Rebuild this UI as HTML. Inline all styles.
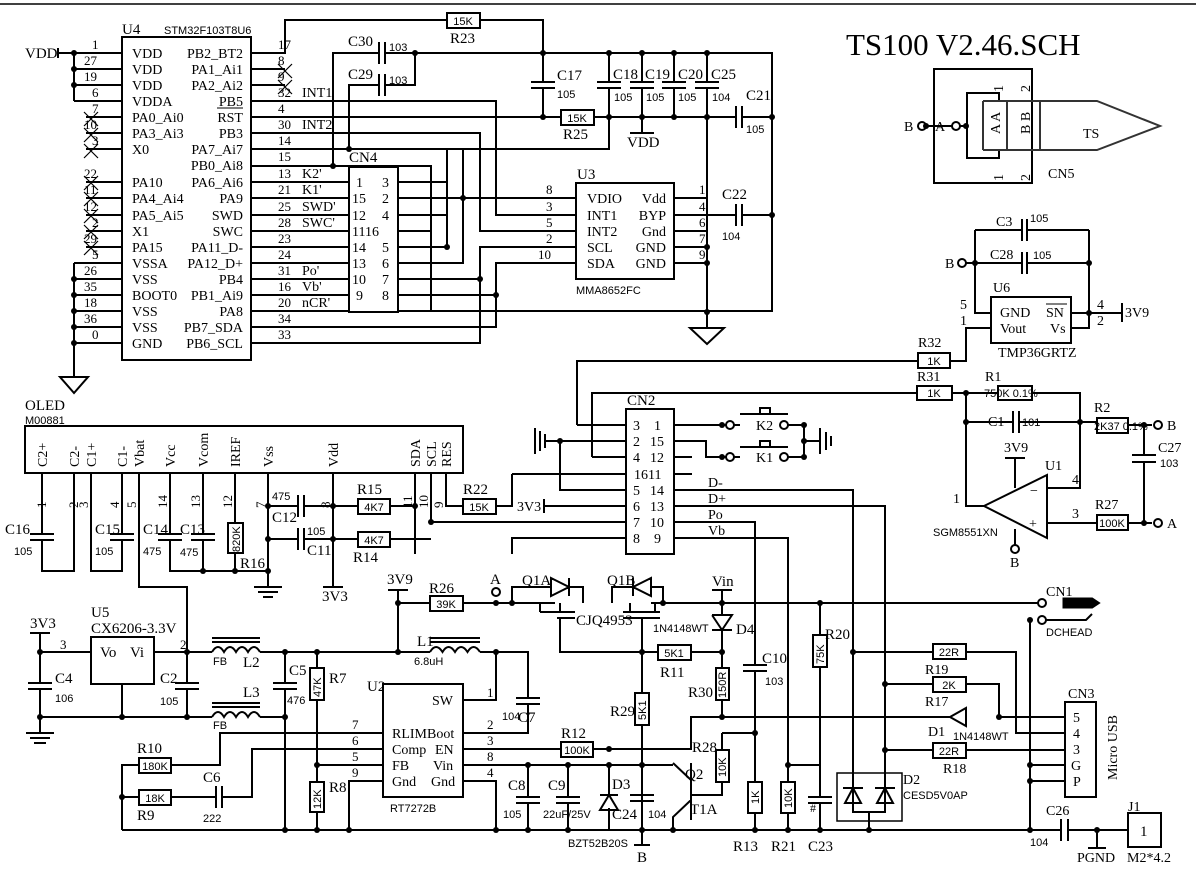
<!DOCTYPE html>
<html><head><meta charset="utf-8"><style>
body{margin:0;background:#fff}
svg{display:block}
.w{stroke:#000;stroke-width:2;fill:none}
.t{font-family:"Liberation Serif",serif;font-size:15px;fill:#000}
.s{font-family:"Liberation Sans",sans-serif;font-size:11px;fill:#000}
.r{fill:#fff;stroke:#000;stroke-width:2}
.g{fill:#fff;stroke:none}
</style></head><body>
<svg width="1196" height="876" viewBox="0 0 1196 876" xmlns="http://www.w3.org/2000/svg">
<line x1="0" y1="4" x2="1196" y2="4" stroke="#000" stroke-width="1.5"/>
<text x="846" y="55" class="t" style="font-size:31px">TS100 V2.46.SCH</text>

<!-- U4 -->
<rect x="122" y="37" width="129" height="323" class="r"/>
<text x="122" y="34" class="t">U4</text><text x="164" y="34" class="s">STM32F103T8U6</text>
<path class="w" d="M58 53H122M74 69H122M74 85H122M74 101H122M74 53V101M86 117H122M86 133H122M86 149H122M86 182H122M86 198H122M86 215H122M86 231H122M86 247H122M74 263H122M74 279H122M74 295H122M74 311H122M74 327H122M74 343H122M74 263V377"/>
<path class="w" d="M58 48V58M60 377H88L74 393Z"/>
<g stroke="#000" stroke-width="1.2"><path d="M84 112l14 14M98 112l-14 14M84 128l14 14M98 128l-14 14M84 144l14 14M98 144l-14 14M84 176l14 14M98 176l-14 14M84 192l14 14M98 192l-14 14M84 209l14 14M98 209l-14 14M84 225l14 14M98 225l-14 14M84 241l14 14M98 241l-14 14M278 64l14 14M292 64l-14 14M278 80l14 14M292 80l-14 14"/></g>
<text x="25" y="58" class="t">VDD</text>
<g class="t" style="font-size:13px"><text x="92" y="49">1</text><text x="84" y="65">27</text><text x="84" y="81">19</text><text x="92" y="97">6</text><text x="92" y="113">7</text><text x="84" y="129">10</text><text x="92" y="145">3</text><text x="84" y="178">22</text><text x="84" y="194">11</text><text x="84" y="211">12</text><text x="92" y="227">2</text><text x="84" y="243">29</text><text x="92" y="259">5</text><text x="84" y="275">26</text><text x="84" y="291">35</text><text x="84" y="307">18</text><text x="84" y="323">36</text><text x="92" y="339">0</text></g>
<g class="t" style="font-size:14px"><text x="132" y="58">VDD</text><text x="132" y="74">VDD</text><text x="132" y="90">VDD</text><text x="132" y="106">VDDA</text><text x="132" y="122">PA0_Ai0</text><text x="132" y="138">PA3_Ai3</text><text x="132" y="154">X0</text><text x="132" y="187">PA10</text><text x="132" y="203">PA4_Ai4</text><text x="132" y="220">PA5_Ai5</text><text x="132" y="236">X1</text><text x="132" y="252">PA15</text><text x="132" y="268">VSSA</text><text x="132" y="284">VSS</text><text x="132" y="300">BOOT0</text><text x="132" y="316">VSS</text><text x="132" y="332">VSS</text><text x="132" y="348">GND</text></g>
<g class="t" style="font-size:14px" text-anchor="end"><text x="243" y="58">PB2_BT2</text><text x="243" y="74">PA1_Ai1</text><text x="243" y="90">PA2_Ai2</text><text x="243" y="106">PB5</text><text x="243" y="122">RST</text><text x="243" y="138">PB3</text><text x="243" y="154">PA7_Ai7</text><text x="243" y="170">PB0_Ai8</text><text x="243" y="187">PA6_Ai6</text><text x="243" y="203">PA9</text><text x="243" y="220">SWD</text><text x="243" y="236">SWC</text><text x="243" y="252">PA11_D-</text><text x="243" y="268">PA12_D+</text><text x="243" y="284">PB4</text><text x="243" y="300">PB1_Ai9</text><text x="243" y="316">PA8</text><text x="243" y="332">PB7_SDA</text><text x="243" y="348">PB6_SCL</text></g>
<line x1="217" y1="108" x2="243" y2="108" stroke="#000"/>
<g class="t" style="font-size:13px"><text x="278" y="49">17</text><text x="278" y="65">8</text><text x="278" y="81">9</text><text x="278" y="97">32</text><text x="278" y="113">4</text><text x="278" y="129">30</text><text x="278" y="145">14</text><text x="278" y="161">15</text><text x="278" y="178">13</text><text x="278" y="194">21</text><text x="278" y="211">25</text><text x="278" y="227">28</text><text x="278" y="243">23</text><text x="278" y="259">24</text><text x="278" y="275">31</text><text x="278" y="291">16</text><text x="278" y="307">20</text><text x="278" y="323">34</text><text x="278" y="339">33</text></g>
<g class="t" style="font-size:14px"><text x="302" y="97">INT1</text><text x="302" y="129">INT2</text><text x="302" y="178">K2'</text><text x="302" y="194">K1'</text><text x="302" y="211">SWD'</text><text x="302" y="227">SWC'</text><text x="302" y="275">Po'</text><text x="302" y="291">Vb'</text><text x="302" y="307">nCR'</text></g>
<path class="w" d="M251 53H285V20H447M480 20H543V117M251 69H285M251 85H285M251 101H496V215H576M251 117H561M251 133H480V231H576M251 149H447V182H398M349 149H609V117M463 149V263H398M251 166H431V311M251 182H349M251 198H349M251 215H349M251 231H349M251 247H349M251 263H349M251 279H349M251 295H349M251 311H772V53H415M251 327H496V263H576M251 343H480V247H576M463 198H576M398 198H480M398 215H447M398 231H431M398 247H447V149M398 279H480M398 295H496"/>
<rect x="447" y="13" width="33" height="15" class="r"/><text x="463" y="25" class="s" text-anchor="middle">15K</text><text x="450" y="43" class="t">R23</text>
<path class="w" d="M333 166V53H379M385 53H415V85H385M379 85H349V149M379 42V64M385 42V64M379 74V96M385 74V96"/>
<text x="348" y="46" class="t">C30</text><text x="389" y="51" class="s">103</text><text x="348" y="79" class="t">C29</text><text x="389" y="84" class="s">103</text>
<rect x="349" y="167" width="49" height="145" class="r"/><text x="349" y="162" class="t">CN4</text>
<g class="t" style="font-size:14px"><text x="356" y="187">1</text><text x="352" y="203">15</text><text x="352" y="220">12</text><text x="352" y="236">1116</text><text x="352" y="252">14</text><text x="352" y="268">13</text><text x="352" y="284">10</text><text x="356" y="300">9</text><text x="382" y="187">3</text><text x="382" y="203">2</text><text x="382" y="220">4</text><text x="382" y="252">5</text><text x="382" y="268">6</text><text x="382" y="284">7</text><text x="382" y="300">8</text></g>
<rect x="530" y="82" width="26" height="6" class="g"/><path class="w" d="M531 82H555M531 88H555"/>
<text x="557" y="80" class="t">C17</text><text x="557" y="98" class="s">105</text>
<rect x="561" y="110" width="33" height="15" class="r"/><text x="577" y="122" class="s" text-anchor="middle">15K</text><text x="563" y="139" class="t">R25</text>
<path class="w" d="M594 117H736M742 117H772M609 53V117M642 53V133M674 53V117M707 53V198H674M674 215H736M742 215H772M674 231H707M674 247H707M674 263H707M707 198V328M630 133H654M736 106V128M742 106V128M736 204V226M742 204V226M690 328H724L707 344Z"/>
<g><rect x="596" y="82" width="26" height="6" class="g"/><rect x="629" y="82" width="26" height="6" class="g"/><rect x="661" y="82" width="26" height="6" class="g"/><rect x="694" y="82" width="26" height="6" class="g"/></g>
<path class="w" d="M597 82H621M597 88H621M630 82H654M630 88H654M662 82H686M662 88H686M695 82H719M695 88H719"/>
<g class="t"><text x="613" y="79">C18</text><text x="645" y="79">C19</text><text x="678" y="79">C20</text><text x="711" y="79">C25</text><text x="746" y="100">C21</text><text x="722" y="199">C22</text><text x="627" y="147">VDD</text></g>
<g class="s"><text x="614" y="101">105</text><text x="646" y="101">105</text><text x="678" y="101">105</text><text x="712" y="101">104</text><text x="746" y="133">105</text><text x="722" y="240">104</text></g>
<rect x="576" y="183" width="98" height="96" class="r"/><text x="577" y="179" class="t">U3</text>
<g class="t" style="font-size:14px"><text x="587" y="203">VDIO</text><text x="587" y="220">INT1</text><text x="587" y="236">INT2</text><text x="587" y="252">SCL</text><text x="587" y="268">SDA</text></g>
<g class="t" style="font-size:14px" text-anchor="end"><text x="666" y="203">Vdd</text><text x="666" y="220">BYP</text><text x="666" y="236">Gnd</text><text x="666" y="252">GND</text><text x="666" y="268">GND</text></g>
<g class="t" style="font-size:13px"><text x="546" y="194">8</text><text x="546" y="211">3</text><text x="546" y="227">5</text><text x="546" y="243">2</text><text x="538" y="259">10</text><text x="699" y="194">1</text><text x="699" y="211">4</text><text x="699" y="227">6</text><text x="699" y="243">7</text><text x="699" y="259">9</text></g>
<text x="576" y="294" class="s">MMA8652FC</text>
<!-- CN5 -->
<path class="w" d="M934 126V69H1032V183H934V126M999 101V93H967V158H999V150"/>
<path d="M983 101H1040M983 150H1040M983 101V150M1007 101V150M1040 101V150M1040 101H1097L1160 126L1097 150H1040" stroke="#333" stroke-width="2" fill="none"/>
<g class="t" style="font-size:14px"><text x="904" y="131">B</text><text x="935" y="131">A</text><text x="1083" y="138">TS</text><text x="1048" y="178">CN5</text></g>
<circle cx="922" cy="126" r="4" class="r" stroke-width="1.2"/><circle cx="956" cy="126" r="4" class="r" stroke-width="1.2"/>
<path class="w" d="M926 126H952M960 126H967"/>
<g class="t" style="font-size:14px"><text transform="translate(1000,134) rotate(-90)">A A</text><text transform="translate(1030,134) rotate(-90)">B B</text><text transform="translate(1003,92) rotate(-90)">1</text><text transform="translate(1030,92) rotate(-90)">2</text><text transform="translate(1003,181) rotate(-90)">1</text><text transform="translate(1030,181) rotate(-90)">2</text></g>
<!-- U6 -->
<path class="w" d="M975 230H1022M1027 230H1089M966 263H1022M1027 263H1089M975 230V313H991M1089 230V328H1071M1071 313H1122M991 328H966V361H950M918 361H577V425M1022 219V241M1027 219V241M1022 252V274M1027 252V274M1122 303V322"/>
<circle cx="962" cy="263" r="4" class="r" stroke-width="1.2"/>
<rect x="991" y="297" width="80" height="46" class="r"/>
<g class="t" style="font-size:14px"><text x="1000" y="317">GND</text><text x="1046" y="317">SN</text><text x="1000" y="333">Vout</text><text x="1050" y="333">Vs</text><text x="993" y="292">U6</text><text x="996" y="226">C3</text><text x="990" y="259">C28</text><text x="945" y="268">B</text><text x="1125" y="317">3V9</text><text x="960" y="309">5</text><text x="960" y="325">1</text><text x="1097" y="309">4</text><text x="1097" y="325">2</text><text x="998" y="357">TMP36GRTZ</text><text x="918" y="347">R32</text></g>
<line x1="1046" y1="304" x2="1067" y2="304" stroke="#000"/>
<g class="s"><text x="1030" y="222">105</text><text x="1033" y="259">105</text></g>
<rect x="918" y="353" width="32" height="15" class="r"/><text x="934" y="365" class="s" text-anchor="middle">1K</text>
<!-- opamp -->
<path class="w" d="M592 457V393H917M952 393H998M1032 393H1080V488H1047M966 393V506H984M966 422H1013M1019 422H1097M1128 425H1152M1144 425V455M1144 462V523M1047 523H1097M1128 523H1152M1013 411V433M1019 411V433M1132 455H1156M1132 462H1156M1015 458V488M1005 458H1025M1015 529V545"/>
<path class="w" d="M984 506L1047 475V538Z"/>
<rect x="917" y="386" width="35" height="14" class="r"/><text x="934" y="397" class="s" text-anchor="middle">1K</text>
<rect x="998" y="386" width="34" height="14" class="r"/><text x="984" y="397" class="s">750K 0.1%</text>
<rect x="1097" y="418" width="31" height="15" class="r"/><text x="1094" y="430" class="s">2K37 0.1%</text>
<rect x="1097" y="515" width="31" height="15" class="r"/><text x="1112" y="527" class="s" text-anchor="middle">100K</text>
<circle cx="1158" cy="425" r="4" class="r" stroke-width="1.2"/><circle cx="1158" cy="523" r="4" class="r" stroke-width="1.2"/><circle cx="1015" cy="549" r="4" class="r" stroke-width="1.2"/>
<g class="t" style="font-size:14px"><text x="917" y="381">R31</text><text x="985" y="381">R1</text><text x="988" y="426">C1</text><text x="1094" y="412">R2</text><text x="1167" y="430">B</text><text x="1167" y="528">A</text><text x="1158" y="452">C27</text><text x="1004" y="452">3V9</text><text x="1045" y="470">U1</text><text x="953" y="503">1</text><text x="1072" y="484">4</text><text x="1072" y="518">3</text><text x="1095" y="509">R27</text><text x="1010" y="567">B</text><text x="1030" y="495">−</text><text x="1029" y="528">+</text></g>
<g class="s"><text x="1022" y="426">101</text><text x="1160" y="467">103</text><text x="933" y="536">SGM8551XN</text></g>
<!-- CN2 -->
<rect x="626" y="409" width="48" height="145" class="r"/><text x="627" y="405" class="t">CN2</text>
<g class="t" style="font-size:14px"><text x="633" y="430">3</text><text x="633" y="446">2</text><text x="633" y="462">4</text><text x="634" y="479">1611</text><text x="633" y="495">5</text><text x="633" y="511">6</text><text x="633" y="527">7</text><text x="633" y="543">8</text><text x="654" y="430">1</text><text x="650" y="446">15</text><text x="650" y="462">12</text><text x="650" y="495">14</text><text x="650" y="511">13</text><text x="650" y="527">10</text><text x="654" y="543">9</text></g>
<path class="w" d="M577 425H626M545 441H626M560 441V490H626M592 457H626M512 474H626M544 506H626M431 522H626M512 554V538H626M512 474V506H496M446 473V506H463M545 434V448M540 431V451M535 428V454M544 499V513"/>
<path class="w" d="M674 425H726M674 441H706V457H726M674 457H692M674 474H692M734 425H740M788 425H804V457H788M734 457H740M804 441H820M820 428V454M826 432V450M831 436V446M674 490H853V773M674 506H885V773M674 522H755V665M755 671V782M674 538H788V782M740 414H788M760 414V408H770V414M740 447H788M760 447V441H770V447"/>
<circle cx="730" cy="425" r="4" class="r" stroke-width="1.2"/><circle cx="784" cy="425" r="4" class="r" stroke-width="1.2"/><circle cx="730" cy="457" r="4" class="r" stroke-width="1.2"/><circle cx="784" cy="457" r="4" class="r" stroke-width="1.2"/>
<g class="t" style="font-size:14px"><text x="756" y="430">K2</text><text x="756" y="462">K1</text><text x="708" y="487">D-</text><text x="708" y="503">D+</text><text x="708" y="519">Po</text><text x="708" y="535">Vb</text><text x="517" y="511">3V3</text></g>
<!-- OLED -->
<rect x="25" y="426" width="438" height="47" class="r"/>
<text x="25" y="410" class="t">OLED</text><text x="25" y="424" class="s">M00881</text>
<g class="t" style="font-size:14px"><text transform="translate(47,467) rotate(-90)">C2+</text><text transform="translate(79,467) rotate(-90)">C2-</text><text transform="translate(96,467) rotate(-90)">C1+</text><text transform="translate(127,467) rotate(-90)">C1-</text><text transform="translate(144,467) rotate(-90)">Vbat</text><text transform="translate(175,467) rotate(-90)">Vcc</text><text transform="translate(208,467) rotate(-90)">Vcom</text><text transform="translate(240,467) rotate(-90)">IREF</text><text transform="translate(273,467) rotate(-90)">Vss</text><text transform="translate(338,467) rotate(-90)">Vdd</text><text transform="translate(420,467) rotate(-90)">SDA</text><text transform="translate(436,467) rotate(-90)">SCL</text><text transform="translate(451,467) rotate(-90)">RES</text></g>
<path class="w" d="M42 473V571H74V473M91 473V571H122V473M139 473V587H187V652M170 473V571H268M203 473V571M235 473V523M235 553V571M268 473V587M333 473V587M268 506H298M304 506H333M268 539H298M304 539H333M333 506H358M390 506H415M333 539H358M390 539H431M415 473V554M431 473V522M298 495V517M304 495V517M298 528V550M304 528V550M323 587H343M254 587H282M258 592H278M263 597H273"/>
<g><rect x="28" y="534" width="28" height="6" class="g"/><rect x="108" y="534" width="28" height="6" class="g"/><rect x="156" y="534" width="28" height="6" class="g"/><rect x="189" y="534" width="28" height="6" class="g"/></g>
<path class="w" d="M30 534H54M30 540H54M110 534H134M110 540H134M158 534H182M158 540H182M191 534H215M191 540H215"/>
<rect x="228" y="523" width="15" height="30" class="r"/><text class="s" transform="translate(240,552) rotate(-90)">820K</text>
<rect x="358" y="499" width="32" height="15" class="r"/><text x="374" y="511" class="s" text-anchor="middle">4K7</text>
<rect x="358" y="532" width="32" height="15" class="r"/><text x="374" y="544" class="s" text-anchor="middle">4K7</text>
<rect x="463" y="499" width="33" height="15" class="r"/><text x="479" y="511" class="s" text-anchor="middle">15K</text>
<g class="t" style="font-size:13px"><text transform="translate(46,508) rotate(-90)">1</text><text transform="translate(78,508) rotate(-90)">2</text><text transform="translate(88,508) rotate(-90)">3</text><text transform="translate(119,508) rotate(-90)">4</text><text transform="translate(136,508) rotate(-90)">5</text><text transform="translate(167,508) rotate(-90)">14</text><text transform="translate(200,508) rotate(-90)">13</text><text transform="translate(232,508) rotate(-90)">12</text><text transform="translate(265,508) rotate(-90)">7</text><text transform="translate(330,508) rotate(-90)">8</text><text transform="translate(412,508) rotate(-90)">11</text><text transform="translate(428,508) rotate(-90)">10</text><text transform="translate(443,508) rotate(-90)">9</text></g>
<g class="t"><text x="5" y="534">C16</text><text x="95" y="534">C15</text><text x="143" y="534">C14</text><text x="180" y="534">C13</text><text x="240" y="568">R16</text><text x="272" y="522">C12</text><text x="307" y="555">C11</text><text x="357" y="494">R15</text><text x="353" y="562">R14</text><text x="463" y="494">R22</text><text x="322" y="601">3V3</text></g>
<g class="s"><text x="14" y="555">105</text><text x="95" y="555">105</text><text x="143" y="555">475</text><text x="180" y="556">475</text><text x="272" y="500">475</text><text x="307" y="535">105</text></g>
<!-- U5 / power -->
<path class="w" d="M30 633H50M40 633V683M40 689V733M40 652H91M154 652H212M260 652H430M480 652H528V698M528 704V733H463M122 684V717M40 717H212M260 717H285M187 652V683M187 689V717M285 652V683M285 689V830M317 652V668M317 700V782M317 812V830M398 590V652M388 590H408M398 603H430M463 603H555M651 603H1038M26 733H54M30 738H50M34 743H46M28 683H52M28 689H52M175 683H199M175 689H199M273 683H297M273 689H297M516 698H540M516 704H540"/>
<rect x="91" y="637" width="63" height="47" class="r"/>
<path d="M212 652q6-10 12 0q6-10 12 0q6-10 12 0q6-10 12 0M212 717q6-10 12 0q6-10 12 0q6-10 12 0q6-10 12 0M430 652q6-10 12.5 0q6-10 12.5 0q6-10 12.5 0q6-10 12.5 0" class="w"/>
<path class="w" d="M212 638H260M212 642H260M212 703H260M212 707H260M430 638H480M430 642H480"/>
<rect x="310" y="668" width="14" height="32" class="r"/><text class="s" transform="translate(321,697) rotate(-90)">47K</text>
<rect x="310" y="782" width="14" height="30" class="r"/><text class="s" transform="translate(321,809) rotate(-90)">12K</text>
<rect x="430" y="596" width="33" height="15" class="r"/><text x="446" y="608" class="s" text-anchor="middle">39K</text>
<circle cx="496" cy="592" r="4" class="r" stroke-width="1.2"/>
<g class="t"><text x="30" y="628">3V3</text><text x="91" y="617">U5</text><text x="91" y="633">CX6206-3.3V</text><text x="100" y="657">Vo</text><text x="130" y="657">Vi</text><text x="60" y="649" style="font-size:13px">3</text><text x="180" y="649" style="font-size:13px">2</text><text x="55" y="683">C4</text><text x="160" y="683">C2</text><text x="243" y="667">L2</text><text x="243" y="697">L3</text><text x="289" y="675">C5</text><text x="329" y="683">R7</text><text x="329" y="792">R8</text><text x="387" y="584">3V9</text><text x="429" y="593">R26</text><text x="490" y="584">A</text><text x="522" y="585">Q1A</text><text x="607" y="585">Q1B</text><text x="417" y="646">L1</text><text x="367" y="691">U2</text></g>
<g class="s"><text x="55" y="702">106</text><text x="160" y="705">105</text><text x="287" y="704">476</text><text x="213" y="665">FB</text><text x="213" y="729">FB</text><text x="414" y="665">6.8uH</text></g>
<!-- U2 -->
<rect x="383" y="684" width="80" height="113" class="r"/>
<g class="t" style="font-size:14px"><text x="432" y="705">SW</text><text x="392" y="738">RLIMBoot</text><text x="392" y="754">Comp</text><text x="435" y="754">EN</text><text x="392" y="770">FB</text><text x="433" y="770">Vin</text><text x="392" y="786">Gnd</text><text x="431" y="786">Gnd</text></g>
<text x="390" y="812" class="s">RT7272B</text>
<g class="t" style="font-size:13px"><text x="352" y="729">7</text><text x="352" y="745">6</text><text x="352" y="761">5</text><text x="352" y="777">9</text><text x="487" y="697">1</text><text x="487" y="729">2</text><text x="487" y="745">3</text><text x="487" y="761">8</text><text x="487" y="777">4</text></g>
<path class="w" d="M383 733H220V765H171M139 765H122V830M383 749H252V797H222M216 797H171M139 797H122M383 765H317M383 781H349V830M463 700H496V652M463 749H561M593 749H691V717H800M463 765H673M463 781H496V830M122 830H1061M1068 830H1128M216 786V808M222 786V808"/>
<rect x="139" y="758" width="32" height="15" class="r"/><text x="155" y="770" class="s" text-anchor="middle">180K</text>
<rect x="139" y="790" width="32" height="15" class="r"/><text x="155" y="802" class="s" text-anchor="middle">18K</text>
<g class="t"><text x="137" y="753">R10</text><text x="137" y="820">R9</text><text x="203" y="782">C6</text><text x="518" y="722">C7</text><text x="561" y="738">R12</text></g>
<g class="s"><text x="203" y="822">222</text><text x="502" y="720">104</text></g>
<rect x="561" y="742" width="32" height="15" class="r"/><text x="577" y="754" class="s" text-anchor="middle">100K</text>
<!-- Q1 region -->
<path class="w" d="M512 603V587H551M569 587H583V603M569 578V596M551 578L569 587L551 596ZM612 603V587H633M651 587H663V603M633 578V596M651 578L633 587L651 596ZM540 603V612M560 603V612M630 603V612M655 603V612M540 612H575M623 612H660M557 618H575M623 618H660M560 618V652H642M642 618V830M642 652H658M691 652H722M722 590V615M712 615H732L722 630L712 615M712 630H732M722 630V668M722 700V717M712 590H732M820 603V635M820 667V797M820 803V830M788 765H820M808 797H832M808 803H832M755 733V782M755 813V830M788 813V830M722 733H755M722 733V750M722 782V795H691M691 763V820M691 780L673 763M691 800L673 817V830M609 765V795M568 765V797M568 803V830M528 765V797M528 803V830M609 808V830M630 795H654M630 801H654M516 797H540M516 803H540M556 797H580M556 803H580M743 665H767M743 671H767M634 845H650M642 830V845"/>
<path d="M609 795L600 810H618Z M600 795H618" class="w"/>
<rect x="658" y="645" width="33" height="15" class="r"/><text x="674" y="657" class="s" text-anchor="middle">5K1</text>
<rect x="716" y="668" width="13" height="32" class="r"/><text class="s" transform="translate(726,698) rotate(-90)">150R</text>
<rect x="635" y="693" width="14" height="32" class="r"/><text class="s" transform="translate(646,720) rotate(-90)">5K1</text>
<rect x="716" y="750" width="13" height="32" class="r"/><text class="s" transform="translate(726,777) rotate(-90)">10K</text>
<rect x="748" y="782" width="14" height="31" class="r"/><text class="s" transform="translate(759,804) rotate(-90)">1K</text>
<rect x="781" y="782" width="14" height="31" class="r"/><text class="s" transform="translate(792,808) rotate(-90)">10K</text>
<rect x="813" y="635" width="14" height="32" class="r"/><text class="s" transform="translate(824,664) rotate(-90)">75K</text>
<g class="t"><text x="576" y="625">CJQ4953</text><text x="736" y="634">D4</text><text x="712" y="586">Vin</text><text x="660" y="677">R11</text><text x="688" y="697">R30</text><text x="610" y="716">R29</text><text x="762" y="663">C10</text><text x="825" y="639">R20</text><text x="692" y="752">R28</text><text x="685" y="779">Q2</text><text x="690" y="814">T1A</text><text x="508" y="790">C8</text><text x="548" y="790">C9</text><text x="612" y="789">D3</text><text x="612" y="819">C24</text><text x="637" y="862">B</text><text x="733" y="851">R13</text><text x="771" y="851">R21</text><text x="808" y="851">C23</text><text x="810" y="812" style="font-size:12px">#</text></g>
<g class="s"><text x="653" y="632">1N4148WT</text><text x="765" y="685">103</text><text x="503" y="818">105</text><text x="543" y="818">22uF/25V</text><text x="648" y="818">104</text><text x="568" y="847">BZT52B20S</text></g>
<!-- D2 / USB -->
<rect x="837" y="773" width="65" height="48" fill="none" stroke="#000" stroke-width="1.5"/>
<path class="w" d="M853 773V812H885V773M869 812V830M843 788H863M875 788H895M853 788L845 803H861ZM885 788L877 803H893Z"/>
<path class="w" d="M853 652H933M966 652H1016V733H1065M885 684H933M966 684H999V717H1065M722 717H950M966 710V724M885 750H933M966 750H1065M1030 620V830M1030 765H1065M1030 781H1065"/>
<path class="w" d="M950 717L966 708V726Z"/>
<rect x="933" y="644" width="33" height="15" class="r"/><text x="949" y="656" class="s" text-anchor="middle">22R</text>
<rect x="933" y="677" width="33" height="15" class="r"/><text x="949" y="689" class="s" text-anchor="middle">2K</text>
<rect x="933" y="743" width="33" height="15" class="r"/><text x="949" y="755" class="s" text-anchor="middle">22R</text>
<rect x="1065" y="702" width="31" height="95" class="r"/>
<g class="t" style="font-size:14px"><text x="1073" y="722">5</text><text x="1073" y="738">4</text><text x="1073" y="754">3</text><text x="1071" y="770">G</text><text x="1073" y="786">P</text><text x="1068" y="698">CN3</text><text transform="translate(1117,780) rotate(-90)">Micro USB</text><text x="903" y="784">D2</text><text x="925" y="674">R19</text><text x="925" y="706">R17</text><text x="928" y="736">D1</text><text x="943" y="773">R18</text><text x="1046" y="596">CN1</text><text x="1046" y="815">C26</text><text x="1128" y="811">J1</text><text x="1077" y="862">PGND</text><text x="1127" y="862">M2*4.2</text></g>
<g class="s"><text x="903" y="799">CESD5V0AP</text><text x="953" y="740">1N4148WT</text><text x="1046" y="636">DCHEAD</text><text x="1030" y="846">104</text></g>
<circle cx="1042" cy="603" r="4" class="r" stroke-width="1.2"/><circle cx="1042" cy="620" r="4" class="r" stroke-width="1.2"/>
<path d="M1064 599H1092L1098 603L1092 607H1064Z" fill="#000" stroke="#000" stroke-width="3"/>
<path class="w" d="M1046 620H1086L1092 614M1061 819V841M1068 819V841M1097 830V848M1088 848H1106"/>
<rect x="1128" y="813" width="33" height="34" class="r"/><text x="1140" y="836" class="t">1</text>
<g fill="#000">
<circle cx="74" cy="53" r="3"/><circle cx="74" cy="69" r="3"/><circle cx="74" cy="85" r="3"/><circle cx="74" cy="279" r="3"/><circle cx="74" cy="295" r="3"/><circle cx="74" cy="311" r="3"/><circle cx="74" cy="327" r="3"/><circle cx="74" cy="343" r="3"/>
<circle cx="415" cy="53" r="3"/><circle cx="543" cy="53" r="3"/><circle cx="543" cy="117" r="3"/><circle cx="333" cy="166" r="3"/><circle cx="349" cy="149" r="3"/><circle cx="463" cy="198" r="3"/><circle cx="447" cy="247" r="3"/><circle cx="480" cy="279" r="3"/><circle cx="496" cy="295" r="3"/>
<circle cx="609" cy="53" r="3"/><circle cx="642" cy="53" r="3"/><circle cx="674" cy="53" r="3"/><circle cx="707" cy="53" r="3"/><circle cx="609" cy="117" r="3"/><circle cx="642" cy="117" r="3"/><circle cx="674" cy="117" r="3"/><circle cx="707" cy="117" r="3"/><circle cx="772" cy="117" r="3"/><circle cx="772" cy="215" r="3"/><circle cx="707" cy="247" r="3"/><circle cx="707" cy="263" r="3"/><circle cx="707" cy="312" r="3"/>
<circle cx="926" cy="126" r="3"/><circle cx="966" cy="126" r="3"/><circle cx="975" cy="263" r="3"/><circle cx="1089" cy="263" r="3"/><circle cx="1089" cy="313" r="3"/>
<circle cx="966" cy="393" r="3"/><circle cx="966" cy="422" r="3"/><circle cx="1080" cy="422" r="3"/><circle cx="1144" cy="425" r="3"/><circle cx="1144" cy="523" r="3"/>
<circle cx="560" cy="441" r="3"/><circle cx="722" cy="425" r="3"/><circle cx="722" cy="457" r="3"/><circle cx="804" cy="425" r="3"/><circle cx="804" cy="441" r="3"/><circle cx="804" cy="457" r="3"/>
<circle cx="203" cy="571" r="3"/><circle cx="235" cy="571" r="3"/><circle cx="268" cy="571" r="3"/><circle cx="268" cy="506" r="3"/><circle cx="268" cy="539" r="3"/><circle cx="333" cy="506" r="3"/><circle cx="333" cy="539" r="3"/><circle cx="415" cy="506" r="3"/><circle cx="431" cy="522" r="3"/>
<circle cx="40" cy="652" r="3"/><circle cx="40" cy="717" r="3"/><circle cx="122" cy="717" r="3"/><circle cx="187" cy="652" r="3"/><circle cx="187" cy="717" r="3"/><circle cx="285" cy="652" r="3"/><circle cx="285" cy="717" r="3"/><circle cx="317" cy="652" r="3"/><circle cx="398" cy="652" r="3"/><circle cx="398" cy="603" r="3"/><circle cx="496" cy="652" r="3"/><circle cx="496" cy="603" r="3"/><circle cx="512" cy="603" r="3"/><circle cx="317" cy="765" r="3"/><circle cx="122" cy="797" r="3"/>
<circle cx="285" cy="830" r="3"/><circle cx="317" cy="830" r="3"/><circle cx="349" cy="830" r="3"/><circle cx="496" cy="830" r="3"/><circle cx="528" cy="830" r="3"/><circle cx="568" cy="830" r="3"/><circle cx="642" cy="830" r="3"/><circle cx="673" cy="830" r="3"/><circle cx="755" cy="830" r="3"/><circle cx="788" cy="830" r="3"/><circle cx="820" cy="830" r="3"/><circle cx="869" cy="830" r="3"/><circle cx="1030" cy="830" r="3"/><circle cx="1097" cy="830" r="3"/>
<circle cx="528" cy="765" r="3"/><circle cx="568" cy="765" r="3"/><circle cx="609" cy="765" r="3"/><circle cx="642" cy="765" r="3"/><circle cx="609" cy="749" r="3"/><circle cx="642" cy="652" r="3"/><circle cx="722" cy="652" r="3"/><circle cx="722" cy="603" r="3"/><circle cx="663" cy="603" r="3"/><circle cx="722" cy="717" r="3"/><circle cx="755" cy="733" r="3"/><circle cx="788" cy="765" r="3"/><circle cx="820" cy="603" r="3"/>
<circle cx="853" cy="652" r="3"/><circle cx="885" cy="684" r="3"/><circle cx="885" cy="750" r="3"/><circle cx="999" cy="717" r="3"/><circle cx="1030" cy="620" r="3"/><circle cx="1030" cy="765" r="3"/><circle cx="1030" cy="781" r="3"/>
</g>
</svg>
</body></html>
